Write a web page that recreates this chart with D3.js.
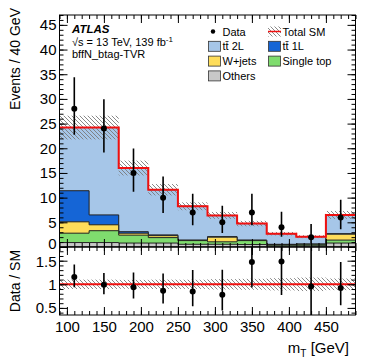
<!DOCTYPE html>
<html>
<head>
<meta charset="utf-8">
<script src="https://cdn.jsdelivr.net/npm/d3@7"></script>
<style>
  body { margin: 0; background: #fff; }
  text { font-family: "Liberation Sans", Arial, sans-serif; }
</style>
</head>
<body>
<div id="chart"></div>
<script>
// bins of mT, 40 GeV wide
var binEdges = [90, 130, 170, 210, 250, 290, 330, 370, 410, 450, 490];
var xTicks = [100, 150, 200, 250, 300, 350, 400, 450];

// stacked backgrounds, bottom to top
var others    = [0.9, 0.9, 0.8, 0.8, 0.55, 0.55, 0.5, 0.25, 0.25, 0.8];
var singleTop = [1.9, 2.4, 1.6, 1.1, 0.75, 0.5, 0.8, 0.25, 0.3, 0.6];
var wjets     = [2.3, 1.2, 0.4, 0.4, 0.05, 0.95, 0.05, 0.0, 0.0, 1.2];
var ttbar1L   = [6.3, 2.0, 0.3, 0.15, 0.05, 0.1, 0.05, 0.05, 0.05, 0.1];
var ttbar2L   = [12.8, 17.7, 12.9, 9.15, 6.85, 4.3, 3.35, 2.15, 1.5, 3.8];
var smUnc     = [2.4, 2.4, 1.5, 1.15, 0.8, 0.7, 0.55, 0.35, 0.3, 0.8];

// data with asymmetric poisson errors
var data        = [28, 24, 15, 10, 7, 5, 7, 4, 2, 6];
var dataErrUp   = [6.38, 5.94, 4.96, 4.26, 3.77, 3.38, 3.77, 3.16, 2.64, 3.58];
var dataErrDown = [5.27, 4.86, 3.83, 3.11, 2.58, 2.16, 2.58, 1.91, 1.29, 2.38];

var upperTicks = [0, 5, 10, 15, 20, 25, 30, 35, 40, 45];
var lowerTicks = [0.5, 1, 1.5];

var W = 374, H = 363;
var svg = d3.select("#chart").append("svg")
  .attr("width", W)
  .attr("height", H);

var defs = svg.append("defs");
defs.append("pattern")
  .attr("id", "hatch")
  .attr("patternUnits", "userSpaceOnUse")
  .attr("width", 4)
  .attr("height", 4)
  .append("path")
  .attr("d", "M-1,-1 L5,5 M-1,3 L1,5 M3,-1 L5,1")
  .attr("stroke", "#7a7a7a")
  .attr("stroke-width", 0.9);

var x = d3.scaleLinear().domain([90, 490]).range([59.5, 355.5]);
var yTop = d3.scaleLinear().domain([0, 47]).range([247, 15]);
var yBot = d3.scaleLinear().domain([0.35, 1.79]).range([315, 247]);

defs.append("clipPath").attr("id", "clipTop")
  .append("rect")
  .attr("x", x(90)).attr("y", yTop(47))
  .attr("width", x(490) - x(90)).attr("height", yTop(0) - yTop(47));
defs.append("clipPath").attr("id", "clipBot")
  .append("rect")
  .attr("x", x(90)).attr("y", yBot(1.79))
  .attr("width", x(490) - x(90)).attr("height", yBot(0.35) - yBot(1.79));

var keys = ["others", "singleTop", "wjets", "ttbar1L", "ttbar2L"];
var colors = {
  others: "#c8c8c8",
  singleTop: "#7fdc6e",
  wjets: "#fedd5a",
  ttbar1L: "#1565d6",
  ttbar2L: "#a6c6e8"
};
var rows = data.map(function (d, i) {
  return {
    others: others[i], singleTop: singleTop[i], wjets: wjets[i],
    ttbar1L: ttbar1L[i], ttbar2L: ttbar2L[i]
  };
});
var stacked = d3.stack().keys(keys)(rows);
var total = rows.map(function (r) {
  return keys.reduce(function (s, k) { return s + r[k]; }, 0);
});

function stepPoints(vals, y) {
  var pts = [];
  vals.forEach(function (v, i) {
    pts.push([x(binEdges[i]), y(v)]);
    pts.push([x(binEdges[i + 1]), y(v)]);
  });
  return pts;
}
var line = d3.line();

var upper = svg.append("g").attr("clip-path", "url(#clipTop)");

// stack, top layer first so lower ones sit over it
stacked.slice().reverse().forEach(function (layer) {
  var tops = layer.map(function (d) { return d[1]; });
  var pts = stepPoints(tops, yTop);
  pts.unshift([x(90), yTop(0)]);
  pts.push([x(490), yTop(0)]);
  upper.append("path")
    .attr("d", line(pts) + "Z")
    .attr("fill", colors[layer.key])
    .attr("stroke", "#222")
    .attr("stroke-width", 1);
});

// uncertainty band
upper.selectAll("rect.unc")
  .data(total)
  .enter()
  .append("rect")
  .attr("class", "unc")
  .attr("x", function (d, i) { return x(binEdges[i]); })
  .attr("width", function (d, i) { return x(binEdges[i + 1]) - x(binEdges[i]); })
  .attr("y", function (d, i) { return yTop(d + smUnc[i]); })
  .attr("height", function (d, i) { return yTop(d - smUnc[i]) - yTop(d + smUnc[i]); })
  .attr("fill", "url(#hatch)");

upper.append("path")
  .attr("d", line(stepPoints(total, yTop)))
  .attr("fill", "none")
  .attr("stroke", "#f01010")
  .attr("stroke-width", 2);

function center(i) { return x((binEdges[i] + binEdges[i + 1]) / 2); }

upper.selectAll("line.err")
  .data(data)
  .enter()
  .append("line")
  .attr("x1", function (d, i) { return center(i); })
  .attr("x2", function (d, i) { return center(i); })
  .attr("y1", function (d, i) { return yTop(d + dataErrUp[i]); })
  .attr("y2", function (d, i) { return yTop(d - dataErrDown[i]); })
  .attr("stroke", "#000")
  .attr("stroke-width", 1.6);
upper.selectAll("circle")
  .data(data)
  .enter()
  .append("circle")
  .attr("cx", function (d, i) { return center(i); })
  .attr("cy", function (d) { return yTop(d); })
  .attr("r", 3)
  .attr("fill", "#000");

// ratio panel
var lower = svg.append("g").attr("clip-path", "url(#clipBot)");
lower.selectAll("rect.unc")
  .data(total)
  .enter()
  .append("rect")
  .attr("x", function (d, i) { return x(binEdges[i]); })
  .attr("width", function (d, i) { return x(binEdges[i + 1]) - x(binEdges[i]); })
  .attr("y", function (d, i) { return yBot(1 + smUnc[i] / d); })
  .attr("height", function (d, i) { return yBot(1 - smUnc[i] / d) - yBot(1 + smUnc[i] / d); })
  .attr("fill", "url(#hatch)");
lower.append("line")
  .attr("x1", x(90)).attr("x2", x(490))
  .attr("y1", yBot(1)).attr("y2", yBot(1))
  .attr("stroke", "#f01010")
  .attr("stroke-width", 2);
lower.selectAll("line.err")
  .data(data)
  .enter()
  .append("line")
  .attr("x1", function (d, i) { return center(i); })
  .attr("x2", function (d, i) { return center(i); })
  .attr("y1", function (d, i) { return yBot((d + dataErrUp[i]) / total[i]); })
  .attr("y2", function (d, i) { return yBot((d - dataErrDown[i]) / total[i]); })
  .attr("stroke", "#000")
  .attr("stroke-width", 1.6);
lower.selectAll("circle")
  .data(data)
  .enter()
  .append("circle")
  .attr("cx", function (d, i) { return center(i); })
  .attr("cy", function (d, i) { return yBot(d / total[i]); })
  .attr("r", 3)
  .attr("fill", "#000");

// axes with ticks on all four sides
function tidy(g) {
  g.select(".domain").remove();
  g.selectAll("line").attr("stroke", "#000");
  g.selectAll("text").attr("font-size", 15).attr("fill", "#000");
}
var minorX = d3.range(90, 491, 10);

function xAxes(yPos, topSide, labels) {
  var mk = function () { return topSide ? d3.axisTop(x) : d3.axisBottom(x); };
  svg.append("g")
    .attr("transform", "translate(0," + yPos + ")")
    .call(mk().tickValues(minorX).tickSize(-4).tickFormat(""))
    .call(tidy);
  svg.append("g")
    .attr("transform", "translate(0," + yPos + ")")
    .call(mk().tickValues(xTicks).tickSize(-8).tickPadding(6)
      .tickFormat(labels ? d3.format("d") : ""))
    .call(tidy);
}
xAxes(yTop(47), true, false);
xAxes(yTop(0), false, false);
xAxes(yBot(1.79), true, false);
xAxes(yBot(0.35), false, true);

function yAxes(scale, minor, major, fmt) {
  svg.append("g")
    .attr("transform", "translate(" + x(90) + ",0)")
    .call(d3.axisLeft(scale).tickValues(minor).tickSize(-4).tickFormat(""))
    .call(tidy);
  var g = svg.append("g")
    .attr("transform", "translate(" + x(90) + ",0)")
    .call(d3.axisLeft(scale).tickValues(major).tickSize(-8).tickPadding(3).tickFormat(fmt))
    .call(tidy);
  svg.append("g")
    .attr("transform", "translate(" + x(490) + ",0)")
    .call(d3.axisRight(scale).tickValues(minor).tickSize(-4).tickFormat(""))
    .call(tidy);
  svg.append("g")
    .attr("transform", "translate(" + x(490) + ",0)")
    .call(d3.axisRight(scale).tickValues(major).tickSize(-8).tickFormat(""))
    .call(tidy);
  return g;
}
var yUpperAxis = yAxes(yTop, d3.range(0, 47.5, 1), upperTicks, d3.format("d"));
var yLowerAxis = yAxes(yBot, d3.range(0.4, 1.8, 0.1), lowerTicks, function (d) { return d; });
// the two labels at the panel join sit close, nudge them apart a little
yUpperAxis.selectAll(".tick text").filter(function (d) { return d === 0; }).attr("y", -3);
yLowerAxis.selectAll(".tick text").filter(function (d) { return d === 1.5; }).attr("y", 1);

// frames
svg.append("rect")
  .attr("x", x(90)).attr("y", yTop(47))
  .attr("width", x(490) - x(90)).attr("height", yTop(0) - yTop(47))
  .attr("fill", "none").attr("stroke", "#000");
svg.append("rect")
  .attr("x", x(90)).attr("y", yBot(1.79))
  .attr("width", x(490) - x(90)).attr("height", yBot(0.35) - yBot(1.79))
  .attr("fill", "none").attr("stroke", "#000");

// axis titles
svg.append("text")
  .attr("transform", "translate(20,8) rotate(-90)")
  .attr("text-anchor", "end")
  .attr("font-size", 14)
  .text("Events / 40 GeV");
svg.append("text")
  .attr("transform", "translate(20," + (yBot(0.35) + yBot(1.79)) / 2 + ") rotate(-90)")
  .attr("text-anchor", "middle")
  .attr("font-size", 14)
  .text("Data / SM");
var xt = svg.append("text")
  .attr("x", 349)
  .attr("y", 353)
  .attr("text-anchor", "end")
  .attr("font-size", 15);
xt.append("tspan").text("m");
xt.append("tspan").attr("dy", 4).attr("font-size", 10).text("T");
xt.append("tspan").attr("dy", -4).text(" [GeV]");

// labels
svg.append("text")
  .attr("x", 72).attr("y", 33)
  .attr("font-size", 11.5)
  .attr("font-weight", "bold")
  .attr("font-style", "italic")
  .text("ATLAS");
var lumi = svg.append("text")
  .attr("x", 72).attr("y", 46)
  .attr("font-size", 11);
lumi.append("tspan").text("\u221As = 13 TeV, 139 fb");
lumi.append("tspan").attr("dy", -4).attr("font-size", 8).text("-1");
svg.append("text")
  .attr("x", 72).attr("y", 58)
  .attr("font-size", 11)
  .text("bffN_btag-TVR");

// legend
var legendItems = [
  { label: "Data", kind: "data", col: 0, row: 0 },
  { label: "Total SM", kind: "total", col: 1, row: 0 },
  { label: "t\u0074\u0304 2L", kind: "ttbar2L", col: 0, row: 1 },
  { label: "t\u0074\u0304 1L", kind: "ttbar1L", col: 1, row: 1 },
  { label: "W+jets", kind: "wjets", col: 0, row: 2 },
  { label: "Single top", kind: "singleTop", col: 1, row: 2 },
  { label: "Others", kind: "others", col: 0, row: 3 }
];
var legend = svg.append("g");
legendItems.forEach(function (it) {
  var lx = it.col === 0 ? 208 : 268;
  var ly = 31.5 + it.row * 14.8;
  var g = legend.append("g");
  if (it.kind === "data") {
    g.append("circle").attr("cx", lx + 5).attr("cy", ly).attr("r", 2.2).attr("fill", "#000");
  } else if (it.kind === "total") {
    g.append("rect").attr("x", lx).attr("y", ly - 5).attr("width", 13).attr("height", 10)
      .attr("fill", "url(#hatch)");
    g.append("line").attr("x1", lx).attr("x2", lx + 13).attr("y1", ly).attr("y2", ly)
      .attr("stroke", "#f01010").attr("stroke-width", 1.5);
  } else {
    g.append("rect").attr("x", lx + 0.5).attr("y", ly - 5).attr("width", 12).attr("height", 10)
      .attr("fill", colors[it.kind]).attr("stroke", "#333").attr("stroke-width", 0.8);
  }
  g.append("text")
    .attr("x", lx + 14.5)
    .attr("y", ly + 4)
    .attr("font-size", 11)
    .text(it.label);
});
</script>
</body>
</html>
